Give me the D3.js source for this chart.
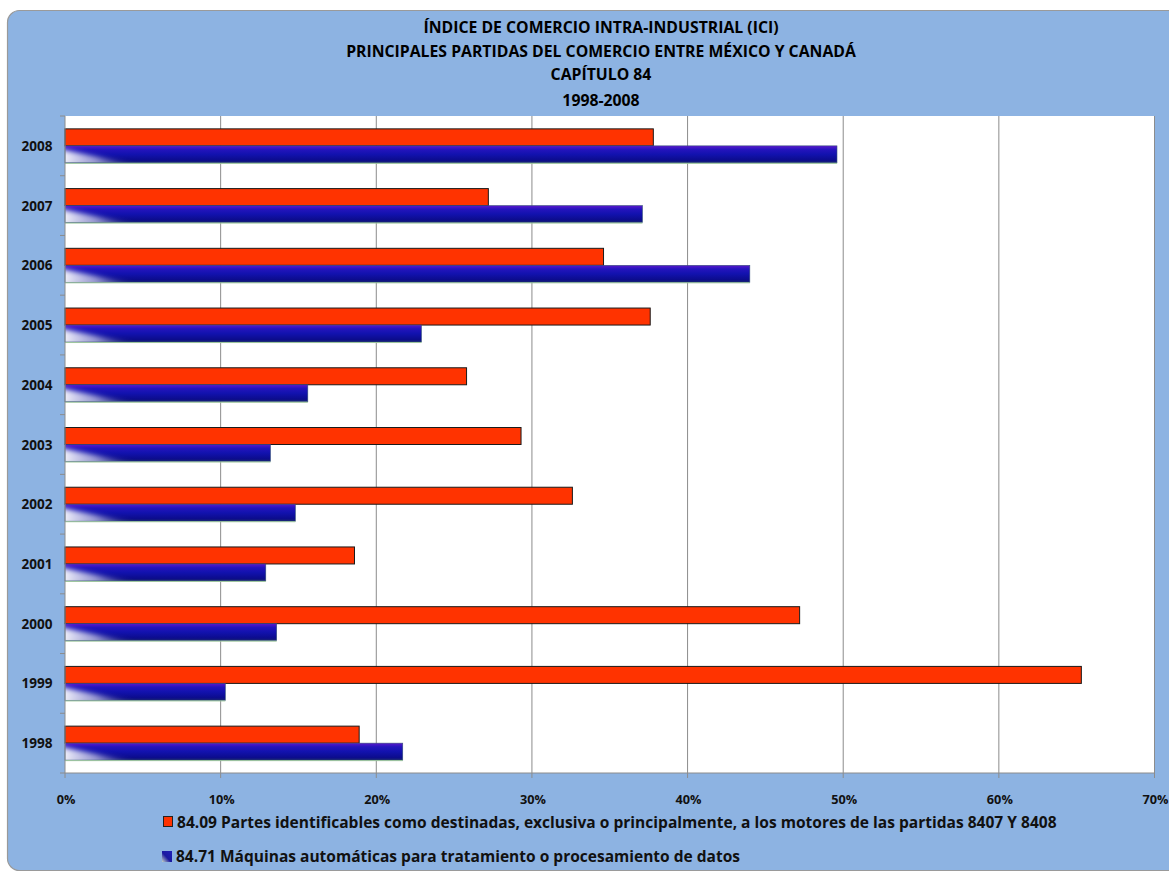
<!DOCTYPE html>
<html><head><meta charset="utf-8">
<script src="https://cdn.jsdelivr.net/npm/d3@7"></script>
<style>body{margin:0;background:#fff;} svg{display:block;font-family:"Open Sans","Noto Sans",sans-serif;}</style>
</head><body><svg id="c" width="1169" height="873"></svg>
<script>
const years = ["2008","2007","2006","2005","2004","2003","2002","2001","2000","1999","1998"];
const s8409 = [37.8,27.2,34.6,37.6,25.8,29.3,32.6,18.6,47.2,65.3,18.9];
const s8471 = [49.6,37.1,44.0,22.9,15.6,13.2,14.8,12.9,13.6,10.3,21.7];
const xTicks = [0,10,20,30,40,50,60,70];
const titleLines = ["ÍNDICE DE COMERCIO INTRA-INDUSTRIAL (ICI)","PRINCIPALES PARTIDAS DEL COMERCIO ENTRE MÉXICO Y CANADÁ","CAPÍTULO 84","1998-2008"];
const legendLabels = ["84.09  Partes identificables como destinadas, exclusiva o principalmente, a los motores de las partidas 8407 Y 8408","84.71 Máquinas automáticas para tratamiento o procesamiento de datos"];

const svg = d3.select("#c");
const defs = svg.append("defs");
const g1 = defs.append("linearGradient").attr("id","blueG").attr("x1",0).attr("y1",0).attr("x2",0).attr("y2",1);
[["0%","#5a18cc"],["22%","#2414bc"],["50%","#1212ae"],["85%","#0c0c8c"],["100%","#1a2870"]].forEach(d=>g1.append("stop").attr("offset",d[0]).attr("stop-color",d[1]));
const g2 = defs.append("linearGradient").attr("id","fadeG").attr("x1",0).attr("y1",0).attr("x2",1).attr("y2",0);
[["0%","#ffffff",1],["45%","#c8c8ec",0.75],["100%","#6a6ac0",0]].forEach(d=>g2.append("stop").attr("offset",d[0]).attr("stop-color",d[1]).attr("stop-opacity",d[2]));
const gl = defs.append("linearGradient").attr("id","legG").attr("x1",0).attr("y1",1).attr("x2",1).attr("y2",0);
[["0%","#c8d8c8"],["45%","#1a1aa0"],["100%","#2020b8"]].forEach(d=>gl.append("stop").attr("offset",d[0]).attr("stop-color",d[1]));
defs.append("filter").attr("id","blur").attr("x","-20%").attr("y","-50%").attr("width","140%").attr("height","200%")
  .append("feGaussianBlur").attr("stdDeviation",2.5);

// background
svg.append("rect").attr("x",7.5).attr("y",10.5).attr("width",1175).attr("height",860).attr("rx",12)
  .attr("fill","#8db3e2").attr("stroke","#9a9a9a").attr("stroke-width",1.2);

const L=65, R=1154.5, T=116, B=773;
const x = d3.scaleLinear().domain([0,70]).range([L,R]);
const y = d3.scaleBand().domain(years).range([T,B]);

svg.append("rect").attr("x",L).attr("y",T).attr("width",R-L).attr("height",B-T).attr("fill","#fff");

// gridlines
svg.append("g").selectAll("line").data(xTicks.slice(1)).join("line")
  .attr("x1",d=>x(d)).attr("x2",d=>x(d)).attr("y1",T).attr("y2",B)
  .attr("stroke","#8c8c8c").attr("stroke-width",1);

// bars
const bh = 17;
const bars = svg.append("g");
years.forEach((yr,i)=>{
  const yc = y(yr) + y.bandwidth()/2;
  bars.append("rect").attr("x",x(0)).attr("y",yc-bh).attr("width",x(s8409[i])-x(0)).attr("height",bh)
    .attr("fill","#ff3300").attr("stroke","#1a1a1a").attr("stroke-width",1);
  const w = x(s8471[i])-x(0);
  defs.append("clipPath").attr("id","cp"+i).append("rect")
    .attr("x",x(0)).attr("y",yc).attr("width",w).attr("height",bh);
  bars.append("rect").attr("x",x(0)).attr("y",yc).attr("width",w).attr("height",bh)
    .attr("fill","url(#blueG)");
  const fw = Math.min(75,w);
  bars.append("g").attr("clip-path",`url(#cp${i})`).append("path")
    .attr("d",`M${x(0)-6},${yc+3}L${x(0)+fw},${yc+bh+3}L${x(0)-6},${yc+bh+4}Z`)
    .attr("fill","url(#fadeG)").attr("filter","url(#blur)");
  bars.append("rect").attr("x",x(0)).attr("y",yc).attr("width",w).attr("height",bh)
    .attr("fill","none").attr("stroke","#34507a").attr("stroke-width",0.6);
  bars.append("line").attr("x1",x(0)).attr("x2",x(0)+w).attr("y1",yc+bh+0.5).attr("y2",yc+bh+0.5)
    .attr("stroke","#9cc69c").attr("stroke-width",1);
});

// axes lines
svg.append("line").attr("x1",L).attr("x2",L).attr("y1",T).attr("y2",B).attr("stroke","#8c8c8c");
svg.append("line").attr("x1",L).attr("x2",R).attr("y1",B).attr("y2",B).attr("stroke","#8c8c8c");
svg.append("line").attr("x1",R).attr("x2",R).attr("y1",T).attr("y2",B).attr("stroke","#8c8c8c");
const bnds = years.map(d=>y(d)).concat([B]);
svg.append("g").selectAll("line").data(bnds).join("line")
  .attr("x1",L-5).attr("x2",L).attr("y1",d=>d).attr("y2",d=>d).attr("stroke","#8c8c8c");
svg.append("g").selectAll("line").data(xTicks).join("line")
  .attr("x1",d=>x(d)).attr("x2",d=>x(d)).attr("y1",B).attr("y2",B+5).attr("stroke","#8c8c8c");

function fit(sel, target){
  sel.each(function(){
    const fs = parseFloat(this.getAttribute("font-size"));
    const w = this.getComputedTextLength();
    this.setAttribute("font-size", (fs*target/w).toFixed(2));
  });
}

// y labels
const yl = svg.append("g").selectAll("text").data(years).join("text")
  .attr("x",37).attr("y",d=>y(d)+y.bandwidth()/2+5).attr("text-anchor","middle")
  .attr("font-size",13).attr("font-weight","bold").attr("fill","#111").text(d=>d);
fit(yl, 31);
// x labels
const xl = svg.append("g").selectAll("text").data(xTicks).join("text")
  .attr("x",d=>x(d)+1).attr("y",804).attr("text-anchor","middle")
  .attr("font-size",12).attr("font-weight","bold").attr("fill","#111").text(d=>d+"%");
const xfs = (()=>{ const n=xl.nodes()[1]; return 12*26/n.getComputedTextLength(); })();
xl.attr("font-size",xfs.toFixed(2));

// title
const tys=[33,56.5,80,105.5];
const tt = svg.append("g").selectAll("text").data(titleLines).join("text")
  .attr("x",601).attr("y",(d,i)=>tys[i]).attr("text-anchor","middle")
  .attr("font-size",15).attr("font-weight","bold").attr("fill","#000").text(d=>d);
const tfs = 15*510/tt.nodes()[1].getComputedTextLength();
tt.attr("font-size",tfs.toFixed(2));

// legend
svg.append("rect").attr("x",163.5).attr("y",816.5).attr("width",9).attr("height",10).attr("fill","#ff3300").attr("stroke","#222");
svg.append("rect").attr("x",162).attr("y",851).attr("width",10).attr("height",11).attr("fill","url(#legG)");
const l1 = svg.append("text").attr("x",177).attr("y",828).attr("font-size",15).attr("font-weight","bold").attr("fill","#111").text(legendLabels[0]);
fit(l1, 880);
const l2 = svg.append("text").attr("x",176).attr("y",862).attr("font-size",15).attr("font-weight","bold").attr("fill","#111").text(legendLabels[1]);
fit(l2, 564);
</script></body></html>
